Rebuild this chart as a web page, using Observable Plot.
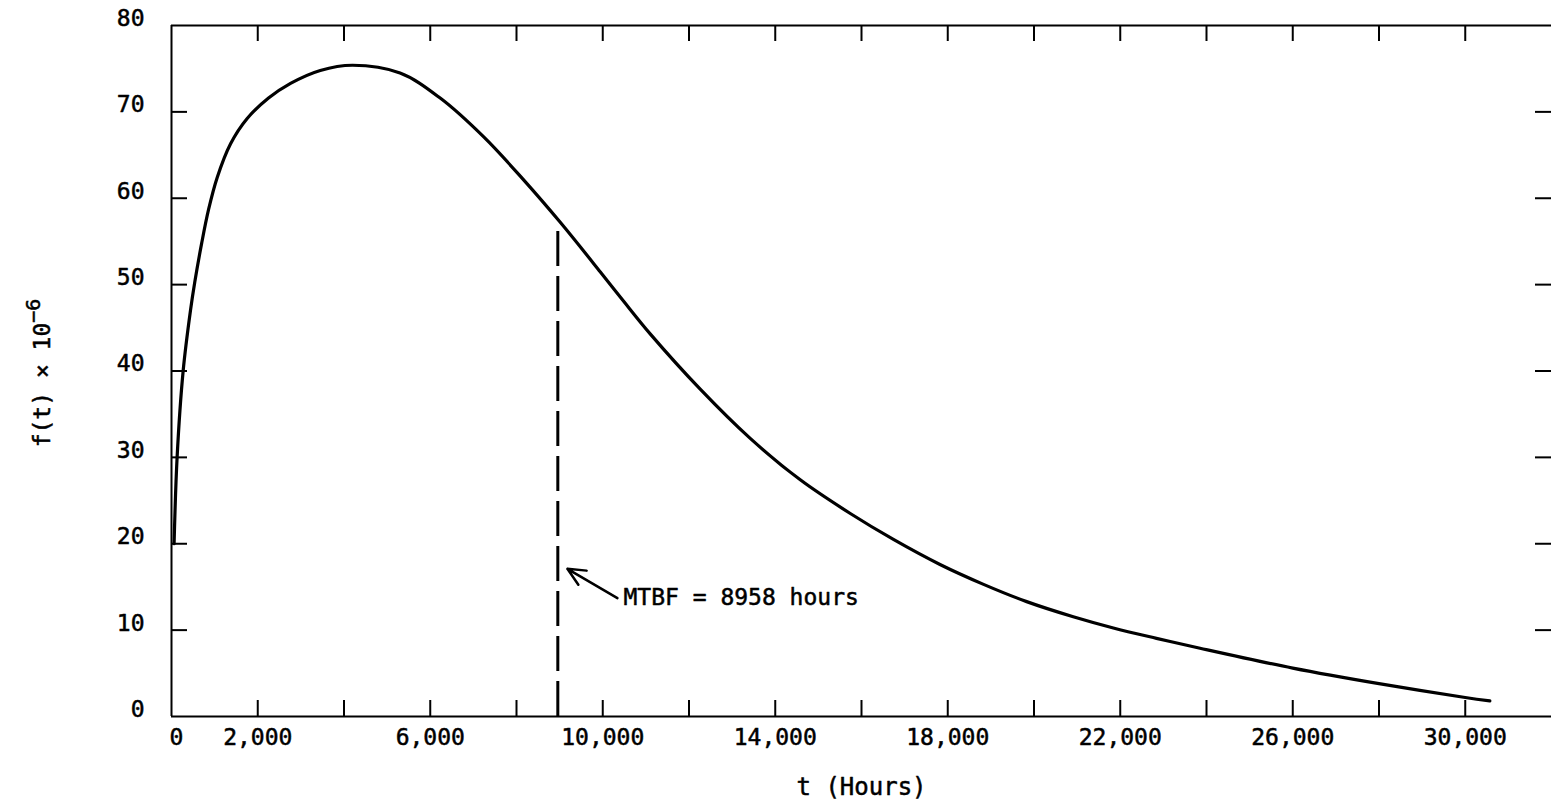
<!DOCTYPE html>
<html><head><meta charset="utf-8">
<script src="https://cdn.jsdelivr.net/npm/d3@7"></script>
<script src="https://cdn.jsdelivr.net/npm/@observablehq/plot@0.6"></script>
<style>html,body{margin:0;padding:0;background:#fff;} svg{display:block}</style>
</head><body><div id="chart"></div>
<script>
// Curve f(t) x 10^-6
const tHours = [60, 130, 270, 440, 540, 700, 860, 1060, 1370, 1750, 2250, 2760, 3450, 4200, 5300, 6230, 7240, 8170, 9000, 9940, 10480, 11100, 12260, 13420, 14580, 15740, 16740, 17820, 18830, 19830, 20910, 21840, 22840, 23850, 26000, 28000, 30000, 30570];
const fValues = [20, 30, 40, 47, 50.3, 54.8, 58.7, 62.4, 66.3, 69.2, 71.6, 73.3, 74.8, 75.4, 74.5, 71.6, 67.1, 62.1, 57.3, 51.5, 48.1, 44.3, 37.9, 32.2, 27.4, 23.5, 20.5, 17.6, 15.3, 13.3, 11.55, 10.25, 9.05, 7.9, 5.6, 3.8, 2.2, 1.8];

const xTicks = [2000, 4000, 6000, 8000, 10000, 12000, 14000, 16000, 18000, 20000, 22000, 24000, 26000, 28000, 30000];
const xTickLabels = [2000, 6000, 10000, 14000, 18000, 22000, 26000, 30000];
const xZeroLabel = [0];
const yTicks = [10, 20, 30, 40, 50, 60, 70];
const yTickLabels = [0, 10, 20, 30, 40, 50, 60, 70, 80];

const mtbf = 8958;
const mtbfCurveValue = 57.2;
const mtbfText = "MTBF = 8958 hours";
const mtbfTextPos = [10480, 13.8];
const arrowTail = [10340, 13.7];
const arrowHead = [9180, 17.1];

const xTitle = "t (Hours)";
const yTitleMain = "f(t) × 10";
const yTitleSup = "−6";

// layout
const W = 1551, H = 809, mL = 171, mR = 0, mT = 25, mB = 93;
const xDomain = [0, 32000], yDomain = [0, 80];
const perPxX = (xDomain[1] - xDomain[0]) / (W - mL - mR);
const perPxY = (yDomain[1] - yDomain[0]) / (H - mT - mB);
const tickLen = 16;
const font = "'DejaVu Sans Mono', 'Liberation Mono', monospace";
const fs = 23;
const textInk = {fill: "#000", stroke: "#000", strokeWidth: 0.5};

const curve = tHours.map((t, i) => ({t, f: fValues[i]}));
const fmt = d3.format(",");

const plot = Plot.plot({
  width: W, height: H,
  marginLeft: mL, marginRight: mR, marginTop: mT, marginBottom: mB,
  x: {domain: xDomain, axis: null},
  y: {domain: yDomain, axis: null},
  style: {fontFamily: font, fontSize: fs + "px", color: "#000", background: "#fff"},
  marks: [
    // frame: bottom, top, left
    Plot.ruleY([yDomain[0], yDomain[1]], {x1: xDomain[0], x2: xDomain[1], stroke: "#000", strokeWidth: 2}),
    Plot.ruleX([xDomain[0]], {y1: yDomain[0], y2: yDomain[1], stroke: "#000", strokeWidth: 2}),
    // inward ticks bottom & top
    Plot.ruleX(xTicks, {x: d => d, y1: yDomain[0], y2: yDomain[0] + tickLen * perPxY, stroke: "#000", strokeWidth: 2}),
    Plot.ruleX(xTicks, {x: d => d, y1: yDomain[1], y2: yDomain[1] - tickLen * perPxY, stroke: "#000", strokeWidth: 2}),
    // inward ticks left & right
    Plot.ruleY(yTicks, {y: d => d, x1: xDomain[0], x2: xDomain[0] + tickLen * perPxX, stroke: "#000", strokeWidth: 2}),
    Plot.ruleY(yTicks, {y: d => d, x1: xDomain[1], x2: xDomain[1] - tickLen * perPxX, stroke: "#000", strokeWidth: 2}),
    // tick labels
    Plot.text(xTickLabels, {x: d => d, y: yDomain[0], text: d => fmt(d), dy: 21, lineAnchor: "middle", textAnchor: "middle", fontSize: fs, ...textInk}),
    Plot.text(xZeroLabel, {x: d => d, y: yDomain[0], text: d => fmt(d), dy: 21, dx: 5, lineAnchor: "middle", textAnchor: "middle", fontSize: fs, ...textInk}),
    Plot.text(yTickLabels, {x: xDomain[0], y: d => d, text: d => String(d), dx: -27, dy: -7, lineAnchor: "middle", textAnchor: "end", fontSize: fs, ...textInk}),
    // MTBF dashed line
    Plot.ruleX([mtbf], {y1: yDomain[0], y2: mtbfCurveValue, stroke: "#000", strokeWidth: 3, strokeDasharray: "35,10"}),
    // curve
    Plot.line(curve, {x: "t", y: "f", curve: "catmull-rom", stroke: "#000", strokeWidth: 3.2}),
    // annotation
    Plot.arrow([0], {x1: arrowTail[0], y1: arrowTail[1], x2: arrowHead[0], y2: arrowHead[1], stroke: "#000", strokeWidth: 2.5, headLength: 14, headAngle: 50}),
    Plot.text([mtbfText], {x: mtbfTextPos[0], y: mtbfTextPos[1], text: d => d, textAnchor: "start", lineAnchor: "middle", fontSize: fs, ...textInk}),
    // x title
    Plot.text([xTitle], {frameAnchor: "bottom", text: d => d, dy: 71, lineAnchor: "middle", textAnchor: "middle", fontSize: 24, ...textInk})
  ]
});

// y title with superscript (real text)
const svg = d3.select(plot);
const yt = svg.append("text")
  .attr("transform", "translate(50,373) rotate(-90)")
  .attr("text-anchor", "middle")
  .attr("font-family", font)
  .attr("font-size", 23)
  .attr("fill", "#000")
  .attr("stroke", "#000")
  .attr("stroke-width", 0.5);
yt.append("tspan").text(yTitleMain);
yt.append("tspan").attr("dy", -10).attr("font-size", 20).text(yTitleSup);

document.getElementById("chart").appendChild(plot);
</script>
</body></html>
